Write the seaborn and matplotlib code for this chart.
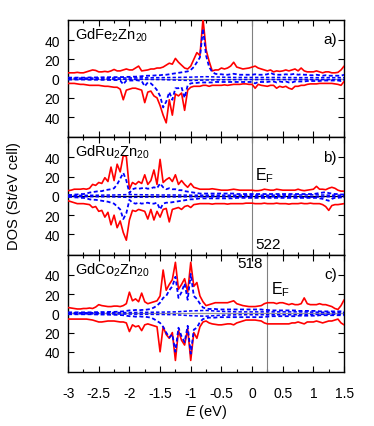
import numpy as np
import matplotlib
matplotlib.use('Agg')
import matplotlib.pyplot as plt
from matplotlib.ticker import MultipleLocator, FuncFormatter
import seaborn as sns

# energy grid (eV), 0.05 eV step, and a coarse grid for the small partial DOS
E = np.round(np.arange(-3.0, 1.5001, 0.05), 2)
E_COARSE = np.round(np.arange(-3.0, 1.5001, 0.25), 2)

# ---- GdFe2Zn20 ----
fe_tot_up = [6, 6, 6, 6.5, 6, 6, 7, 8, 9, 8.5,
             7, 7, 7.5, 7, 8, 9.5, 8, 8, 9, 10,
             9, 9, 11, 13, 8, 8.5, 9, 10, 10, 11,
             11, 12, 14, 16, 15, 21, 17, 14, 11, 10,
             13, 20, 27, 24, 62, 30, 18, 8, 9, 9,
             11, 10, 11, 13, 17, 12, 11, 10, 10.5, 11,
             12, 13, 11, 10, 9, 8, 9, 7, 8, 7.5,
             8, 9, 8, 9, 10, 8, 11, 8, 7, 7,
             7, 8, 7, 6, 7, 7, 6, 6, 6.5, 9,
             13]
fe_tot_dn = [-5, -5, -5, -5.5, -6, -6, -6.5, -7, -7, -7,
             -7, -7.5, -8, -8, -8.5, -9, -9, -11, -22, -12,
             -11, -10, -10, -11, -12, -25, -14, -13, -18, -20,
             -28, -38, -46, -22, -38, -16, -18, -15, -33, -12,
             -9, -8, -8, -8, -7, -7, -8, -7, -7, -7,
             -7, -6.5, -7, -6.5, -6, -6, -6, -5.5, -5.5, -6,
             -6, -10, -6, -7, -7.5, -8, -7, -7, -10, -8,
             -9, -8, -10, -11, -8, -8, -7, -7, -6, -5.5,
             -5.5, -5.5, -5, -5, -5, -5, -5, -5.5, -6, -7,
             -3]
fe_tm_up = [1, 1, 1, 1, 1, 1, 1, 1.2, 1.2, 1.2,
            1.3, 1.3, 1.4, 1.4, 1.5, 1.5, 1.5, 1.6, 1.6, 1.8,
            1.8, 2, 2, 2.2, 2.5, 2.8, 3, 3, 3.2, 3.5,
            3.5, 4, 4, 4.5, 5, 5.5, 6, 6.5, 7, 7.5,
            9, 12, 17, 22, 52, 24, 12, 7, 5, 4.5,
            4.5, 4, 4, 4.5, 5, 4.5, 4, 4, 4, 4,
            4, 4.5, 4, 4, 4, 4.5, 6, 4.5, 4, 4,
            4, 4.5, 4, 4.5, 5, 4, 4.5, 4, 4, 3.5,
            3.5, 4, 3.5, 3, 3.5, 3, 3, 3, 3, 3,
            4]
fe_tm_dn = [-1, -1, -1, -1, -1, -1, -1, -1.2, -1.2, -1.2,
            -1.2, -1.3, -1.3, -1.4, -1.4, -1.5, -1.5, -2, -6, -2,
            -2, -2, -1.5, -2, -2.5, -8, -4, -5, -8, -12,
            -18, -30, -24, -14, -22, -10, -10, -9, -20, -7,
            -5, -4.5, -4.5, -4, -4, -4, -4, -4, -3.5, -3.5,
            -3.5, -3.5, -3.5, -3.5, -3.5, -3.5, -3.5, -3.5, -3.5, -3.5,
            -3.5, -5, -3.5, -3.5, -3.5, -3.5, -3, -3, -4, -3,
            -3.5, -3, -4, -4, -3, -3, -3, -3, -2.5, -2.5,
            -2.5, -2.5, -2.5, -2, -2, -2, -2, -2, -2, -2.5,
            -1.5]
fe_x_up = [0.5, 0.5, 0.6, 0.6, 0.7, 0.8, 1, 1.2, 1.5, 2, 1.5, 1.2, 1.2, 1.2, 1.2, 1, 1, 1, 1]
fe_x_dn = [-0.5, -0.5, -0.6, -0.6, -0.7, -0.8, -1, -1.5, -2, -1.5, -1.2, -1, -1, -1, -1, -1, -1, -1, -1]

# ---- GdRu2Zn20 ----
ru_tot_up = [5.5, 6, 7, 7, 7, 7.5, 7, 8, 12, 11,
             14, 13, 19, 15, 30, 16, 33, 25, 42, 41,
             7, 14, 12, 15, 13, 22, 12, 16, 27, 12,
             38, 14, 17, 19, 15, 22, 12, 16, 12, 9,
             13, 9, 8, 7, 7, 7, 7, 7.5, 7, 6.5,
             6, 6, 6, 6.5, 7, 6.5, 6, 6, 6, 6,
             6, 5.5, 5.5, 6, 7, 6.5, 6, 6, 7, 6.5,
             6, 6, 6, 6, 6, 7, 6, 5.5, 6, 6.5,
             7, 10, 7, 7, 6.5, 8, 9, 8, 6, 5,
             5]
ru_tot_dn = [-5, -6, -7, -8, -8, -8, -8.5, -9, -12, -11,
             -16, -15, -22, -17, -30, -20, -33, -26, -38, -46,
             -25, -15, -16, -14, -15, -16, -24, -14, -25, -16,
             -22, -14, -13, -27, -14, -13, -12, -14, -11, -10,
             -12, -9, -8.5, -8, -8, -8, -8, -8.5, -8, -8,
             -8, -8, -8.5, -8, -8, -8, -8, -8, -7.5, -7.5,
             -7.5, -8, -8, -8, -7.5, -8, -8, -8, -7.5, -8,
             -8, -8, -8.5, -8, -8, -8, -7.5, -8, -8, -7.5,
             -8, -8, -8, -9, -11, -15, -10, -9, -9, -8.5,
             -8]
ru_tm_up = [1, 1, 1.5, 1.5, 2, 2, 2.5, 3.5, 4, 4.5,
            5, 5, 6, 6.5, 7, 8, 12, 18, 24, 16,
            3, 7, 8, 7.5, 8, 8.5, 7.5, 8, 9, 8,
            13, 9, 7, 8, 7, 7, 6, 6, 5, 4.5,
            4, 3.5, 3, 2.5, 2.5, 2.5, 2.5, 2.5, 2.5, 2.5,
            2.5, 2.5, 2.5, 2.5, 2.5, 2, 2, 2, 2, 2,
            2, 2, 2, 2, 2, 2, 2, 2, 2, 2,
            2, 2, 2, 2, 2, 2, 2, 2, 2, 2,
            2, 2.5, 3, 3.5, 4, 3, 2.5, 2, 2, 1.5,
            1.5]
ru_tm_dn = [-1, -1, -1.5, -1.5, -2, -2, -2.5, -3.5, -4, -4,
            -4.5, -5, -5.5, -6, -7, -8, -11, -14, -24, -18,
            -4, -7, -8, -7, -8, -7.5, -7, -8, -8, -7,
            -14, -8, -7, -7, -6.5, -6, -5.5, -5, -4.5, -4,
            -3.5, -3.5, -3, -2.5, -2.5, -2.5, -2.5, -2.5, -2.5, -2.5,
            -2.5, -2.5, -2.5, -2.5, -2.5, -2, -2, -2, -2, -2,
            -2, -2, -2, -2, -2, -2, -2, -2, -2, -2,
            -2, -2, -2, -2, -2, -2, -2, -2, -2, -2,
            -2, -2, -2.5, -3, -4, -5, -3, -2, -2, -1.5,
            -1.5]
ru_x_up = [0.5, 0.6, 0.8, 1, 1.5, 1.2, 1, 1, 0.8, 0.8, 0.8, 0.8, 0.8, 0.8, 0.8, 1, 1.2, 0.8, 0.8]
ru_x_dn = [-0.5, -0.6, -0.8, -1, -1.5, -1.2, -1, -1, -0.8, -0.8, -0.8, -0.8, -0.8, -0.8, -0.8, -1, -1.2, -0.8, -0.8]

# ---- GdCo2Zn20 ----
co_tot_up = [6, 5.5, 5, 4.5, 4.5, 5, 5, 5.5, 5, 6.5,
             9, 8, 7.5, 7, 7, 7.5, 7.5, 7, 8, 10,
             22, 13, 15, 12, 21, 12, 10, 11, 12, 13,
             18, 45, 24, 30, 35, 53, 25, 30, 36, 22,
             53, 28, 32, 18, 12, 8, 9, 10, 11, 11,
             11, 11, 11, 12, 13, 10, 9, 8, 7.5, 7,
             7, 7, 7.5, 8, 10, 11, 11, 11, 10, 11,
             11, 10, 9, 10, 9, 9, 10, 16, 10, 9,
             9, 9, 10, 9, 9, 8, 7, 5, 4, 8,
             14]
co_tot_dn = [-6, -6, -6, -6, -6, -6, -6, -6.5, -7, -8,
             -9, -9, -8.5, -8, -8, -8, -8.5, -9, -9, -10,
             -19, -12, -14, -13, -18, -12, -11, -12, -13, -14,
             -40, -14, -22, -26, -20, -49, -18, -28, -33, -16,
             -49, -20, -26, -14, -9, -8, -10, -11, -11.5, -12,
             -12, -11.5, -11, -11, -12, -10, -9, -8, -7, -7,
             -7, -7, -7.5, -8, -10, -11, -11, -11, -11, -11,
             -11, -11, -11, -10, -10, -9, -10, -11, -9, -9,
             -9, -8, -9, -10, -9, -8, -8, -7, -6, -10,
             -12]
co_tm_up = [1, 1, 1, 1, 1, 1, 1, 1, 1, 1.2,
            1.2, 1.3, 1.3, 1.4, 1.5, 1.5, 1.6, 1.8, 2, 2.5,
            3, 3, 3.5, 3, 3.5, 3.5, 4, 4.5, 6, 8,
            11, 16, 18, 24, 28, 38, 16, 22, 31, 14,
            41, 18, 15, 10, 6, 5, 4.5, 4.5, 4.5, 4,
            4, 4, 4, 4, 4, 4, 4, 4, 4, 4,
            4, 4, 4, 4, 3.5, 3.5, 3, 3, 3, 3,
            3, 3, 3, 3, 3, 2.5, 2.5, 2.5, 2.5, 2.5,
            2.5, 2.5, 2, 2, 2, 2, 2, 2, 2, 2,
            2]
co_tm_dn = [-1, -1, -1, -1, -1, -1, -1, -1, -1, -1.2,
            -1.2, -1.3, -1.3, -1.4, -1.5, -1.5, -1.6, -1.8, -2, -2.5,
            -3, -3, -3.5, -3, -3.5, -3.5, -4, -4.5, -6, -8,
            -10, -14, -20, -25, -22, -40, -15, -24, -30, -13,
            -42, -17, -15, -9, -6, -5, -4.5, -4.5, -4.5, -4,
            -4, -4, -4, -4, -4, -4, -4, -4, -4, -4,
            -4, -4, -4, -4, -3.5, -3.5, -3, -3, -3, -3,
            -3, -3, -3, -3, -3, -2.5, -2.5, -2.5, -2.5, -2.5,
            -2.5, -2.5, -2, -2, -2, -2, -2, -2, -2, -2,
            -2]
co_x_up = [0.5, 0.5, 0.6, 0.7, 0.8, 1, 1.2, 1.5, 2.5, 3, 2, 1.5, 1.5, 1.5, 1.5, 1.5, 1.2, 1, 1]
co_x_dn = [-0.5, -0.5, -0.6, -0.7, -0.8, -1, -1.2, -1.5, -2.5, -3, -2, -1.5, -1.5, -1.5, -1.5, -1.5, -1.2, -1, -1]

COMPOUNDS = ['GdFe$_2$Zn$_{20}$', 'GdRu$_2$Zn$_{20}$', 'GdCo$_2$Zn$_{20}$']
PANEL_TAGS = ['a)', 'b)', 'c)']
FERMI = [0.0, 0.0, 0.25]
ZERO_COLORS = ['#999999', '#000000', '#999999']

sns.set_theme(style='white')
plt.rcParams.update({
    'font.family': ['Liberation Sans', 'DejaVu Sans'],
    'mathtext.fontset': 'custom',
    'mathtext.rm': 'Liberation Sans',
    'mathtext.it': 'Liberation Sans:italic',
    'mathtext.default': 'regular',
    'axes.unicode_minus': False,
    'axes.edgecolor': 'black',
    'axes.linewidth': 1.0,
    'text.color': 'black',
})

RED = '#ff0000'
BLUE = '#0000ff'
DASH = (0, (2.2, 1.4))

fig, axes = plt.subplots(3, 1, figsize=(3.74, 4.27), dpi=100, sharex=True)
fig.subplots_adjust(left=0.182, right=0.920, top=0.951, bottom=0.1265, hspace=0)

series = [
    (fe_tot_up, fe_tot_dn, fe_tm_up, fe_tm_dn, fe_x_up, fe_x_dn),
    (ru_tot_up, ru_tot_dn, ru_tm_up, ru_tm_dn, ru_x_up, ru_x_dn),
    (co_tot_up, co_tot_dn, co_tm_up, co_tm_dn, co_x_up, co_x_dn),
]

for k, ax in enumerate(axes):
    tu, td, bu, bd, xu, xd = series[k]
    ax.axhline(0, color=ZERO_COLORS[k], lw=0.9, zorder=1)
    ax.axvline(FERMI[k], color='#808080', lw=0.8, zorder=1)
    sns.lineplot(x=E_COARSE, y=xu, ax=ax, color=BLUE, lw=1.1, linestyle=DASH, zorder=2)
    sns.lineplot(x=E_COARSE, y=xd, ax=ax, color=BLUE, lw=1.1, linestyle=DASH, zorder=2)
    sns.lineplot(x=E, y=tu, ax=ax, color=RED, lw=1.2, zorder=3)
    sns.lineplot(x=E, y=td, ax=ax, color=RED, lw=1.2, zorder=3)
    sns.lineplot(x=E, y=bu, ax=ax, color=BLUE, lw=1.3, linestyle=DASH, zorder=4)
    sns.lineplot(x=E, y=bd, ax=ax, color=BLUE, lw=1.3, linestyle=DASH, zorder=4)

    ax.set_xlim(-3, 1.5)
    ax.set_ylim(-61, 61)
    ax.set_yticks([-40, -20, 0, 20, 40])
    ax.yaxis.set_major_formatter(FuncFormatter(lambda v, p: '%d' % abs(v)))
    ax.xaxis.set_major_locator(MultipleLocator(0.5))
    ax.xaxis.set_minor_locator(MultipleLocator(0.25))
    ax.xaxis.set_major_formatter(FuncFormatter(lambda v, p: '%g' % v))
    ax.tick_params(which='both', direction='in', top=True, right=True,
                   bottom=True, left=True,
                   labelsize=10, colors='black', width=0.8)
    ax.tick_params(which='major', length=4)
    ax.tick_params(which='minor', length=2)
    ax.tick_params(axis='y', pad=6)
    ax.tick_params(axis='x', pad=10)
    ax.set_xlabel('')
    ax.set_ylabel('')

    ax.text(-2.88, 55, COMPOUNDS[k], ha='left', va='top', fontsize=10.5)
    ax.text(1.38, 41, PANEL_TAGS[k], ha='right', va='center', fontsize=11)

axes[1].text(0.04, 12, 'E$_\\mathrm{F}$', ha='left', va='bottom', fontsize=11.5)
axes[1].text(0.06, -50, '522', ha='left', va='center', fontsize=11)
axes[2].text(0.17, 52, '518', ha='right', va='center', fontsize=11)
axes[2].text(0.31, 16, 'E$_\\mathrm{F}$', ha='left', va='bottom', fontsize=11.5)

fig.text(0.037, 1 - 196 / 427, 'DOS (St/eV cell)', rotation=90,
         ha='center', va='center', fontsize=10.5)
fig.text(206 / 374, 1 - 412 / 427, '$\\mathit{E}$ (eV)', ha='center', va='center',
         fontsize=10.5)

fig.savefig('out.png', dpi=100)
